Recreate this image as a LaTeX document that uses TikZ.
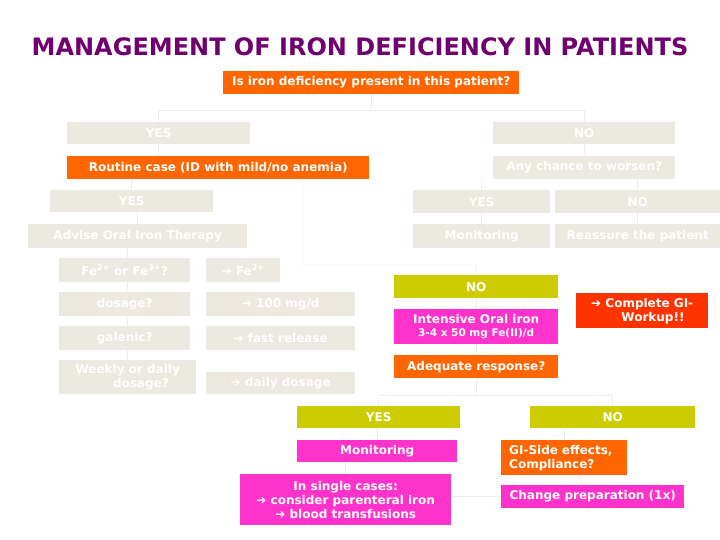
\documentclass[tikz,border=0pt]{standalone}
\usepackage{fontspec}
\setmainfont{DejaVu Sans}
\definecolor{ora}{HTML}{FF6600}
\definecolor{bei}{HTML}{ECE9E0}
\definecolor{oli}{HTML}{CCCC00}
\definecolor{mag}{HTML}{FF33CC}
\definecolor{redd}{HTML}{FF3300}
\definecolor{pur}{HTML}{700070}
\definecolor{linec}{HTML}{F0EDE6}
\begin{document}
\begin{tikzpicture}[x=1pt,y=-1pt,
  bx/.style={anchor=north west, inner sep=0pt, text=white, align=center,
    font=\fontsize{12}{14}\selectfont\bfseries},
  conn/.style={draw=linec, line width=0.8pt}]
\useasboundingbox (0,0) rectangle (720,540);
\node[anchor=center, text=pur, font=\fontsize{24}{26}\selectfont\bfseries] (title) at (360,47) {MANAGEMENT OF IRON DEFICIENCY IN PATIENTS};
% top
\node[bx, fill=ora, minimum width=296pt, minimum height=23pt] (q) at (223,71) {Is iron deficiency present in this patient?};
\node[bx, fill=bei, minimum width=183pt, minimum height=22pt] (yes1) at (67,122) {YES};
\node[bx, fill=bei, minimum width=182pt, minimum height=22pt] (no1) at (493,122) {NO};
\node[bx, fill=ora, minimum width=302pt, minimum height=23pt] (rout) at (67,156) {Routine case (ID with mild/no anemia)};
\node[bx, fill=bei, minimum width=182pt, minimum height=23pt] (any) at (493,156) {Any chance to worsen?};
\node[bx, fill=bei, minimum width=163pt, minimum height=22pt] (yes2) at (50,190) {YES};
\node[bx, fill=bei, minimum width=137pt, minimum height=23pt] (yesr) at (413,190) {YES};
\node[bx, fill=bei, minimum width=165pt, minimum height=23pt] (nor) at (555,190) {NO};
\node[bx, fill=bei, minimum width=219pt, minimum height=24pt] (adv) at (28,224) {Advise Oral Iron Therapy};
\node[bx, fill=bei, minimum width=137pt, minimum height=24pt] (mon1) at (413,224) {Monitoring};
\node[bx, fill=bei, minimum width=165pt, minimum height=24pt] (reas) at (555,224) {Reassure the patient};
% left questions
\node[bx, fill=bei, minimum width=131pt, minimum height=24pt] (fe) at (59,258) {Fe\textsuperscript{2+} or Fe\textsuperscript{3+}?};
\node[bx, fill=bei, minimum width=74pt, minimum height=24pt] (fea) at (206,258) {➔ Fe\textsuperscript{2+}};
\node[bx, fill=bei, minimum width=131pt, minimum height=24pt] (dos) at (59,292) {dosage?};
\node[bx, fill=bei, minimum width=149pt, minimum height=24pt] (dosa) at (206,292) {➔ 100 mg/d};
\node[bx, fill=bei, minimum width=131pt, minimum height=24pt] (gal) at (59,326) {galenic?};
\node[bx, fill=bei, minimum width=149pt, minimum height=24pt] (gala) at (206,326) {➔ fast release};
\node[bx, fill=bei, minimum width=137pt, minimum height=34pt] (wk) at (59,360) {Weekly or daily\\\hspace*{2.2em}dosage?};
\node[bx, fill=bei, minimum width=149pt, minimum height=22pt] (wka) at (206,372) {➔ daily dosage};
% middle
\node[bx, fill=oli, minimum width=164pt, minimum height=23pt] (nob) at (394,275) {NO};
\node[bx, fill=mag, minimum width=164pt, minimum height=35pt] (int) at (394,309) {Intensive Oral iron\\[-1pt]{\fontsize{10.5}{12}\selectfont 3-4 x 50 mg Fe(II)/d}};
\node[bx, fill=ora, minimum width=164pt, minimum height=23pt] (adq) at (394,355) {Adequate response?};
\node[bx, fill=redd, minimum width=132pt, minimum height=35pt] (gic) at (576,293) {➔ Complete GI-\\\hspace*{1.8em}Workup!!};
% bottom
\node[bx, fill=oli, minimum width=163pt, minimum height=22pt] (yes3) at (297,406) {YES};
\node[bx, fill=oli, minimum width=165pt, minimum height=22pt] (no3) at (530,406) {NO};
\node[bx, fill=mag, minimum width=160pt, minimum height=22pt] (mon2) at (297,440) {Monitoring};
\node[bx, fill=mag, minimum width=211pt, minimum height=51pt] (sing) at (240,474) {In single cases:\\➔ consider parenteral iron\\➔ blood transfusions};
\node[bx, fill=ora, minimum height=35pt, align=left, inner xsep=8pt, text width=110pt] (gis) at (501,440) {GI-Side effects,\\Compliance?};
\node[bx, fill=mag, minimum width=183pt, minimum height=23pt] (chg) at (501,485) {Change preparation (1x)};
% connectors
\draw[conn] (q.south) -- ++(0,16) coordinate (qj);
\draw[conn] (qj) -| (yes1.north);
\draw[conn] (qj) -| (no1.north);
\draw[conn] (no1) -- (any);
\draw[conn] (yes1.south) -- (yes1.south |- rout.north);
\draw[conn] (rout.south -| yes2.north) -- (yes2.north);
\draw[conn] (303,179) |- (476,265) -- (nob.north);
\draw[conn] (any.south -| yesr.north) -- (yesr.north);
\draw[conn] (any.south -| nor.north) -- (nor.north);
\draw[conn] (yesr) -- (mon1);
\draw[conn] (nor) -- (reas);
\draw[conn] (yes2.south -| adv.north) -- (adv.north);
\draw[conn] (127,248) -- (127,258);
\draw[conn] (fe.south -| 127,0) -- (dos.north -| 127,0);
\draw[conn] (dos.south -| 127,0) -- (gal.north -| 127,0);
\draw[conn] (gal.south -| 127,0) -- (wk.north -| 127,0);
\draw[conn] (nob) -- (int);
\draw[conn] (int) -- (adq);
\draw[conn] (adq.south) -- ++(0,17) coordinate (aj);
\draw[conn] (aj) -| (yes3.north);
\draw[conn] (aj) -| (no3.north);
\draw[conn] (yes3.south -| mon2.north) -- (mon2.north);
\draw[conn] (mon2.south -| sing.north) -- (sing.north);
\draw[conn] (no3.south -| gis.north) -- (gis.north);
\draw[conn] (gis) -- (chg);
\draw[conn] (chg.west) -- (sing.east |- chg.west);
\end{tikzpicture}
\end{document}
